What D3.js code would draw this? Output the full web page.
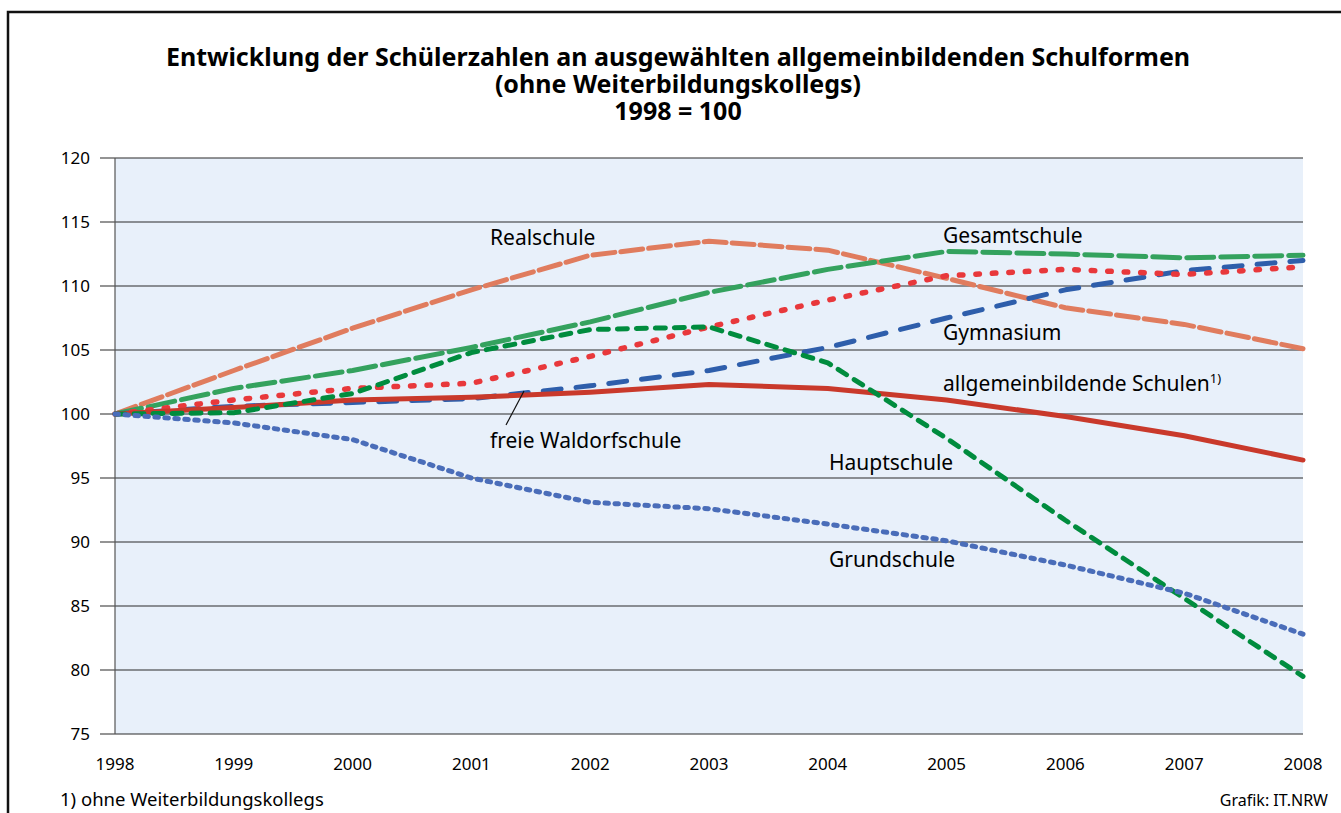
<!DOCTYPE html>
<html>
<head>
<meta charset="utf-8">
<script src="https://cdn.jsdelivr.net/npm/d3@7"></script>
<style>
  body { margin: 0; background: #fff; }
  svg { display: block; font-family: "Noto Sans", "Open Sans", sans-serif; }
</style>
</head>
<body>
<div id="chart"></div>
<script>
// Data: 1998 = 100
var years = [1998, 1999, 2000, 2001, 2002, 2003, 2004, 2005, 2006, 2007, 2008];
var yTicks = [75, 80, 85, 90, 95, 100, 105, 110, 115, 120];

var realschule   = [100, 103.4, 106.7, 109.7, 112.4, 113.5, 112.8, 110.6, 108.3, 107.0, 105.1];
var gesamtschule = [100, 102.0, 103.4, 105.2, 107.2, 109.5, 111.3, 112.7, 112.5, 112.2, 112.4];
var hauptschule  = [100, 100.1, 101.6, 104.8, 106.6, 106.8, 104.0, 98.1, 91.7, 85.6, 79.5];
var gymnasium    = [100, 100.6, 100.9, 101.2, 102.2, 103.4, 105.2, 107.5, 109.7, 111.2, 112.0];
var waldorf      = [100, 101.1, 102.0, 102.4, 104.5, 106.8, 108.9, 110.8, 111.3, 110.9, 111.5];
var allgemein    = [100, 100.5, 101.1, 101.3, 101.7, 102.3, 102.0, 101.1, 99.8, 98.3, 96.4];
var grundschule  = [100, 99.3, 98.0, 95.0, 93.1, 92.6, 91.4, 90.1, 88.2, 86.0, 82.8];

// dash lengths allow for the round caps
var series = [
  {name: "Realschule", values: realschule, color: "#e07c5e", width: 5, dash: "22,6"},
  {name: "Gesamtschule", values: gesamtschule, color: "#34a25e", width: 5, dash: "27,7"},
  {name: "Gymnasium", values: gymnasium, color: "#2e5eab", width: 5, dash: "18,15"},
  {name: "freie Waldorfschule", values: waldorf, color: "#e8383b", width: 5.5, dash: "3.5,13"},
  {name: "allgemeinbildende Schulen", values: allgemein, color: "#c9392b", width: 5, dash: null},
  {name: "Hauptschule", values: hauptschule, color: "#008c3e", width: 5, dash: "10,9"},
  {name: "Grundschule", values: grundschule, color: "#4a6db9", width: 5, dash: "3.5,6.5"}
];

var W = 1341, H = 813;
var margin = {left: 115, right: 38, top: 158, bottom: 79};

var svg = d3.select("#chart").append("svg")
    .attr("width", W)
    .attr("height", H);

// Outer frame
svg.append("rect")
    .attr("x", 8).attr("y", 12)
    .attr("width", W + 20).attr("height", H + 20)
    .attr("fill", "#fff")
    .attr("stroke", "#111")
    .attr("stroke-width", 2.5);

var x = d3.scaleLinear()
    .domain([1998, 2008])
    .range([margin.left, W - margin.right]);

var y = d3.scaleLinear()
    .domain([75, 120])
    .range([H - margin.bottom, margin.top]);

// Title
var title = ["Entwicklung der Schülerzahlen an ausgewählten allgemeinbildenden Schulformen",
             "(ohne Weiterbildungskollegs)", "1998 = 100"];
svg.append("g").selectAll("text")
    .data(title)
  .enter().append("text")
    .attr("x", 678)
    .attr("y", function(d, i) { return 66 + i * 27; })
    .attr("text-anchor", "middle")
    .style("font-size", "25px")
    .style("font-weight", "bold")
    .text(function(d) { return d; });

// Plot background
svg.append("rect")
    .attr("x", x(1998)).attr("y", y(120))
    .attr("width", x(2008) - x(1998))
    .attr("height", y(75) - y(120))
    .attr("fill", "#e8f0fa");

// Grid lines and ticks
var grid = svg.append("g").attr("class", "grid");
grid.selectAll("line")
    .data(yTicks)
  .enter().append("line")
    .attr("x1", 100)
    .attr("x2", x(2008))
    .attr("y1", function(d) { return y(d); })
    .attr("y2", function(d) { return y(d); })
    .attr("stroke", "#2a2a2a")
    .attr("stroke-width", 1.2);

svg.append("line")
    .attr("x1", x(1998)).attr("x2", x(1998))
    .attr("y1", y(120)).attr("y2", y(75))
    .attr("stroke", "#555")
    .attr("stroke-width", 1.2);

// Y labels
svg.append("g").selectAll("text")
    .data(yTicks)
  .enter().append("text")
    .attr("x", 90)
    .attr("y", function(d) { return y(d); })
    .attr("dy", "0.35em")
    .attr("text-anchor", "end")
    .style("font-size", "17px")
    .text(function(d) { return d; });

// X labels
svg.append("g").selectAll("text")
    .data(years)
  .enter().append("text")
    .attr("x", function(d) { return x(d); })
    .attr("y", 770)
    .attr("text-anchor", "middle")
    .style("font-size", "17px")
    .text(function(d) { return d; });

// Lines
var line = d3.line()
    .x(function(d, i) { return x(years[i]); })
    .y(function(d) { return y(d); });

svg.append("g").selectAll("path")
    .data(series)
  .enter().append("path")
    .attr("d", function(d) { return line(d.values); })
    .attr("fill", "none")
    .attr("stroke", function(d) { return d.color; })
    .attr("stroke-width", function(d) { return d.width; })
    .attr("stroke-dasharray", function(d) { return d.dash; })
    .attr("stroke-linecap", "round")
    .attr("stroke-linejoin", "round");

// Series labels
var labels = [
  {text: "Realschule", x: 490, y: 245},
  {text: "Gesamtschule", x: 943, y: 243},
  {text: "Gymnasium", x: 943, y: 340},
  {text: "freie Waldorfschule", x: 490, y: 448},
  {text: "Hauptschule", x: 829, y: 470},
  {text: "Grundschule", x: 829, y: 567}
];
svg.append("g").selectAll("text")
    .data(labels)
  .enter().append("text")
    .attr("x", function(d) { return d.x; })
    .attr("y", function(d) { return d.y; })
    .style("font-size", "21px")
    .text(function(d) { return d.text; });

var ag = svg.append("text")
    .attr("x", 943).attr("y", 391)
    .style("font-size", "21px")
    .text("allgemeinbildende Schulen");
ag.append("tspan")
    .attr("dy", -8)
    .style("font-size", "13px")
    .text("1)");

// Leader line for Waldorfschule
svg.append("line")
    .attr("x1", 506).attr("y1", 425)
    .attr("x2", 524).attr("y2", 391)
    .attr("stroke", "#111")
    .attr("stroke-width", 1.2);

// Footer
svg.append("text")
    .attr("x", 60).attr("y", 806)
    .style("font-size", "18.5px")
    .text("1) ohne Weiterbildungskollegs");

svg.append("text")
    .attr("x", 1328).attr("y", 806)
    .attr("text-anchor", "end")
    .style("font-size", "16px")
    .text("Grafik: IT.NRW");
</script>
</body>
</html>
